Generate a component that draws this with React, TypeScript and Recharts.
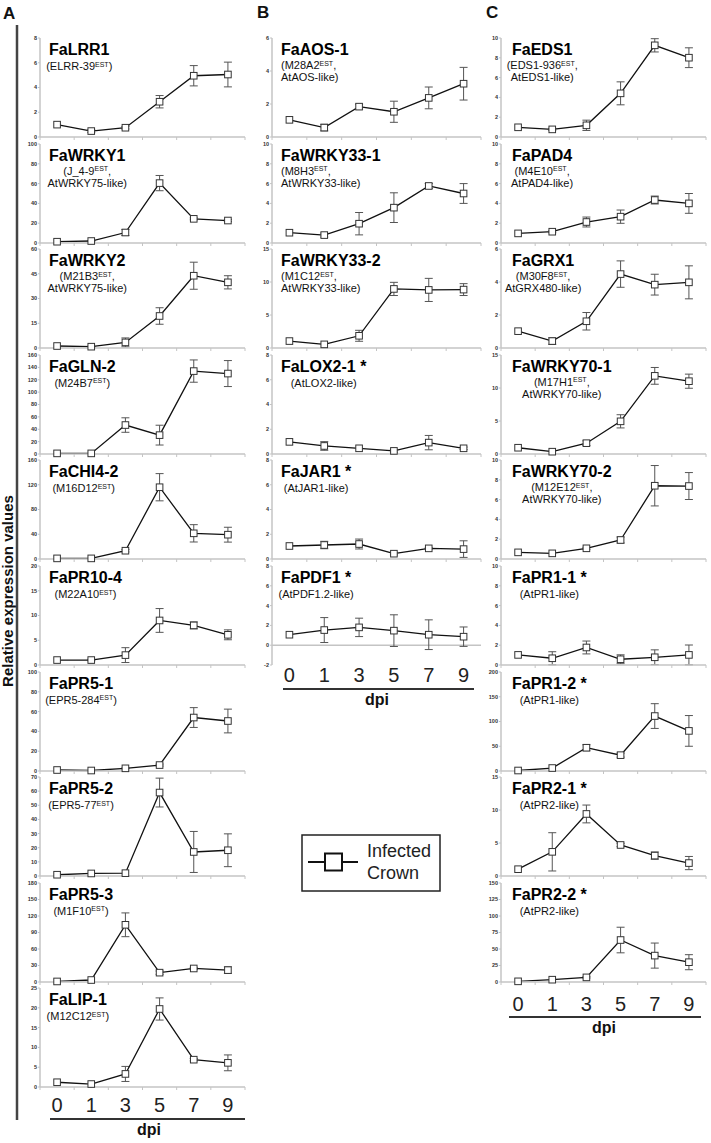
import React from 'react';
import { LineChart, Line, XAxis, YAxis, ErrorBar, ReferenceLine } from 'recharts';

const DPI = ['0', '1', '3', '5', '7', '9'];

// column A, mean and error
const lrr1 = [1, 0.48, 0.75, 2.85, 4.95, 5.05];
const lrr1Se = [0, 0.1, 0.1, 0.5, 0.82, 1.0];
const wrky1 = [1.3, 2, 10.6, 60.5, 24.4, 22.7];
const wrky1Se = [0, 0.5, 3, 7.7, 1, 1];
const wrky2 = [1.2, 0.8, 3.4, 19.4, 43.8, 39.8];
const wrky2Se = [0, 0.3, 2.7, 5, 8.2, 4];
const gln2 = [1, 1, 46.8, 30.5, 134, 130];
const gln2Se = [0, 0, 11.7, 16, 18, 21];
const chi42 = [1, 1, 13.4, 116, 41.5, 39.3];
const chi42Se = [0, 0, 2, 22, 14, 12];
const pr104 = [1, 1, 2, 9, 8, 6.1];
const pr104Se = [0, 0.15, 1.5, 2.4, 0.7, 1];
const pr51 = [1, 0.5, 2.7, 6, 54, 50.5];
const pr51Se = [0, 0, 0.5, 1, 10, 12];
const pr52 = [0.9, 1.8, 2, 59, 17, 18.2];
const pr52Se = [0, 0, 0, 10.2, 14.5, 11.6];
const pr53 = [1, 3.6, 104, 17, 24.6, 21.6];
const pr53Se = [0, 0, 21.6, 3, 2, 6];
const lip1 = [1.2, 0.75, 3.3, 19.7, 6.9, 6.1];
const lip1Se = [0, 0, 1.9, 2.8, 0.3, 2];

// column B
const aos1 = [1.04, 0.57, 1.84, 1.53, 2.37, 3.23];
const aos1Se = [0, 0.2, 0.15, 0.64, 0.66, 0.99];
const wrky331 = [1.04, 0.8, 1.95, 3.57, 5.76, 5.0];
const wrky331Se = [0, 0.2, 1.13, 1.5, 0.25, 1.0];
const wrky332 = [1.05, 0.55, 1.85, 8.95, 8.8, 8.85];
const wrky332Se = [0, 0, 0.83, 1, 1.75, 0.9];
const lox21 = [0.98, 0.65, 0.46, 0.25, 0.92, 0.46];
const lox21Se = [0, 0.35, 0, 0.1, 0.58, 0.1];
const jar1 = [1.05, 1.13, 1.21, 0.43, 0.86, 0.8];
const jar1Se = [0, 0.3, 0.4, 0.1, 0.05, 0.67];
const pdf1 = [1.06, 1.53, 1.8, 1.47, 1.06, 0.86];
const pdf1Se = [0, 1.26, 0.93, 1.6, 1.5, 0.98];

// column C
const eds1 = [0.98, 0.77, 1.18, 4.41, 9.26, 8.01];
const eds1Se = [0, 0.1, 0.52, 1.16, 0.67, 1.0];
const pad4 = [0.97, 1.14, 2.12, 2.66, 4.34, 4.0];
const pad4Se = [0, 0.1, 0.5, 0.67, 0.4, 1.0];
const grx1 = [1.02, 0.42, 1.62, 4.48, 3.84, 3.98];
const grx1Se = [0, 0.2, 0.53, 0.8, 0.63, 1.0];
const wrky701 = [0.95, 0.35, 1.64, 4.95, 11.84, 11.03];
const wrky701Se = [0, 0, 0.35, 1.0, 1.27, 1.07];
const wrky702 = [0.67, 0.57, 1.08, 1.92, 7.4, 7.37];
const wrky702Se = [0, 0, 0.1, 0.3, 2.04, 1.36];
const pr11 = [1.02, 0.68, 1.77, 0.58, 0.78, 1.02];
const pr11Se = [0, 0.66, 0.65, 0.45, 0.75, 1.0];
const pr12 = [1, 6, 47, 32, 111, 81];
const pr12Se = [0, 0, 6, 4, 25, 31];
const pr21 = [1.03, 3.66, 9.4, 4.7, 3.09, 1.96];
const pr21Se = [0, 2.9, 1.35, 0.25, 0.55, 1.0];
const pr22 = [1, 3.5, 7, 63.6, 40, 30];
const pr22Se = [0, 0, 1, 19.4, 19, 11.4];

// y tick labels
const tk6 = [0, 2, 4, 6];
const tk8 = [0, 2, 4, 6, 8];
const tk10 = [0, 2, 4, 6, 8, 10];
const tk15 = [0, 5, 10, 15];
const tk20 = [0, 5, 10, 15, 20];
const tk25 = [0, 5, 10, 15, 20, 25];
const tk60 = [0, 15, 30, 45, 60];
const tk70 = [0, 10, 20, 30, 40, 50, 60, 70];
const tk100 = [0, 20, 40, 60, 80, 100];
const tk150 = [0, 25, 50, 75, 100, 125, 150];
const tk160 = [0, 20, 40, 60, 80, 100, 120, 140, 160];
const tk160b = [0, 40, 80, 120, 160];
const tk180 = [0, 30, 60, 90, 120, 150, 180];
const tk200 = [0, 50, 100, 150, 200];
const tkNeg8 = [-2, 0, 2, 4, 6, 8];

type PanelDef = { name: string; sub: string[]; v: number[]; se: number[]; ticks: number[] };

// '^' switches superscript on / off
const COL_A: PanelDef[] = [
  { name: 'FaLRR1', sub: ['(ELRR-39^EST^)'], v: lrr1, se: lrr1Se, ticks: tk8 },
  { name: 'FaWRKY1', sub: ['(J_4-9^EST^,', 'AtWRKY75-like)'], v: wrky1, se: wrky1Se, ticks: tk100 },
  { name: 'FaWRKY2', sub: ['(M21B3^EST^,', 'AtWRKY75-like)'], v: wrky2, se: wrky2Se, ticks: tk60 },
  { name: 'FaGLN-2', sub: ['(M24B7^EST^)'], v: gln2, se: gln2Se, ticks: tk160 },
  { name: 'FaCHI4-2', sub: ['(M16D12^EST^)'], v: chi42, se: chi42Se, ticks: tk160b },
  { name: 'FaPR10-4', sub: ['(M22A10^EST^)'], v: pr104, se: pr104Se, ticks: tk20 },
  { name: 'FaPR5-1', sub: ['(EPR5-284^EST^)'], v: pr51, se: pr51Se, ticks: tk100 },
  { name: 'FaPR5-2', sub: ['(EPR5-77^EST^)'], v: pr52, se: pr52Se, ticks: tk70 },
  { name: 'FaPR5-3', sub: ['(M1F10^EST^)'], v: pr53, se: pr53Se, ticks: tk180 },
  { name: 'FaLIP-1', sub: ['(M12C12^EST^)'], v: lip1, se: lip1Se, ticks: tk25 },
];

const COL_B: PanelDef[] = [
  { name: 'FaAOS-1', sub: ['(M28A2^EST^,', 'AtAOS-like)'], v: aos1, se: aos1Se, ticks: tk6 },
  { name: 'FaWRKY33-1', sub: ['(M8H3^EST^,', 'AtWRKY33-like)'], v: wrky331, se: wrky331Se, ticks: tk10 },
  { name: 'FaWRKY33-2', sub: ['(M1C12^EST^,', 'AtWRKY33-like)'], v: wrky332, se: wrky332Se, ticks: tk15 },
  { name: 'FaLOX2-1 *', sub: ['(AtLOX2-like)'], v: lox21, se: lox21Se, ticks: tk8 },
  { name: 'FaJAR1 *', sub: ['(AtJAR1-like)'], v: jar1, se: jar1Se, ticks: tk8 },
  { name: 'FaPDF1 *', sub: ['(AtPDF1.2-like)'], v: pdf1, se: pdf1Se, ticks: tkNeg8 },
];

const COL_C: PanelDef[] = [
  { name: 'FaEDS1', sub: ['(EDS1-936^EST^,', 'AtEDS1-like)'], v: eds1, se: eds1Se, ticks: tk10 },
  { name: 'FaPAD4', sub: ['(M4E10^EST^,', 'AtPAD4-like)'], v: pad4, se: pad4Se, ticks: tk10 },
  { name: 'FaGRX1', sub: ['(M30F8^EST^,', 'AtGRX480-like)'], v: grx1, se: grx1Se, ticks: tk6 },
  { name: 'FaWRKY70-1', sub: ['(M17H1^EST^,', 'AtWRKY70-like)'], v: wrky701, se: wrky701Se, ticks: tk15 },
  { name: 'FaWRKY70-2', sub: ['(M12E12^EST^,', 'AtWRKY70-like)'], v: wrky702, se: wrky702Se, ticks: tk10 },
  { name: 'FaPR1-1 *', sub: ['(AtPR1-like)'], v: pr11, se: pr11Se, ticks: tk10 },
  { name: 'FaPR1-2 *', sub: ['(AtPR1-like)'], v: pr12, se: pr12Se, ticks: tk200 },
  { name: 'FaPR2-1 *', sub: ['(AtPR2-like)'], v: pr21, se: pr21Se, ticks: tk15 },
  { name: 'FaPR2-2 *', sub: ['(AtPR2-like)'], v: pr22, se: pr22Se, ticks: tk150 },
];

const LEFT_SUBS = new Set(['FaAOS-1', 'FaWRKY33-1', 'FaWRKY33-2']);

const FONT = '"Liberation Sans", Arial, Helvetica, sans-serif';
const PLOT_H = 99;
const PITCH = 105.6;
const TOP0 = 38;
const AXW = 30;
const EDGES = [-0.5, 0.5, 1.5, 2.5, 3.5, 4.5, 5.5];
const IDX = [0, 1, 2, 3, 4, 5];
const GREY = '#c4c4c4';

const COLS = [
  { panels: COL_A, x0: 40, w: 205, titleX: 49, labMargin: 5, rule: [50, 245, 1119], dpi: [149, 1135], letter: ['A', 3, 19] },
  { panels: COL_B, x0: 272, w: 209, titleX: 281, labMargin: 1, rule: [283, 474, 689], dpi: [377, 705], letter: ['B', 257, 18] },
  { panels: COL_C, x0: 501, w: 205, titleX: 512, labMargin: 9, rule: [509, 701, 1017], dpi: [604, 1033], letter: ['C', 486, 18] },
];

let measureCtx: CanvasRenderingContext2D | null = null;
function textWidth(s: string, font: string) {
  if (!measureCtx) measureCtx = document.createElement('canvas').getContext('2d');
  if (!measureCtx) return s.length * 9;
  measureCtx.font = font;
  return measureCtx.measureText(s).width;
}

function SquareDot(props: any) {
  const { cx, cy, index } = props;
  if (cx == null || cy == null) return <g key={`d${index}`} />;
  return <rect key={`d${index}`} x={cx - 3.3} y={cy - 3.3} width={6.6} height={6.6} fill="#fff" stroke="#333" strokeWidth={1} />;
}

function Panel({ def, x0, w, top, last, labMargin }: { def: PanelDef; x0: number; w: number; top: number; last: boolean; labMargin: number }) {
  const rows = IDX.map(i => ({ x: i, v: def.v[i], se: def.se[i] }));
  const lo = def.ticks[0];
  const hi = def.ticks[def.ticks.length - 1];
  const neg = lo < 0;
  const axH = neg ? 2 : 6;
  const labH = last ? 30 : 0;
  const axisStyle = { stroke: GREY, strokeWidth: 1.5 };
  return (
    <div style={{ position: 'absolute', left: x0 - AXW, top: top - 4 }}>
      <LineChart width={AXW + w + 4} height={4 + PLOT_H + axH + labH} data={rows} margin={{ top: 4, right: 4, bottom: 0, left: 0 }}>
        <XAxis dataKey="x" type="number" domain={[-0.5, 5.5]} ticks={EDGES} interval={0} tickFormatter={() => ''}
          height={axH} tickSize={3} axisLine={neg ? false : axisStyle} tickLine={neg ? false : { stroke: GREY }} />
        {last && (
          <XAxis xAxisId="lab" dataKey="x" type="number" domain={[-0.5, 5.5]} ticks={IDX} interval={0}
            tickFormatter={(i: number) => DPI[i]} height={labH} tickSize={0} tickMargin={labMargin}
            axisLine={false} tickLine={false} tick={{ fontSize: 20, fill: '#222' }} />
        )}
        <YAxis type="number" domain={[lo, hi]} ticks={def.ticks} interval={0} width={AXW} tickSize={2} tickMargin={1}
          axisLine={axisStyle} tickLine={{ stroke: GREY }} tick={{ fontSize: 5.5, fill: '#333', fontWeight: 700 }} />
        {neg && <ReferenceLine y={0} stroke={GREY} strokeWidth={1.5} />}
        <Line dataKey="v" stroke="#111" strokeWidth={1.3} dot={false} activeDot={false} isAnimationActive={false}>
          <ErrorBar dataKey="se" direction="y" width={4} stroke="#555" strokeWidth={1} />
        </Line>
        {/* markers drawn last so the white squares sit over the error bars */}
        <Line dataKey="v" stroke="none" dot={SquareDot} activeDot={false} isAnimationActive={false} />
      </LineChart>
    </div>
  );
}

function SubLine({ s, x, y, anchor }: { s: string; x: number; y: number; anchor: 'start' | 'middle' }) {
  const parts = s.split('^');
  return (
    <text x={x} y={y} fontSize={11} textAnchor={anchor} fill="#111">
      {parts.map((p, i) =>
        i % 2 === 1
          ? <tspan key={i} fontSize={7} dy={-3.5}>{p}</tspan>
          : <tspan key={i} dy={i > 0 ? 3.5 : 0}>{p}</tspan>
      )}
    </text>
  );
}

export default function App() {
  const titleFont = `bold 16px ${FONT}`;
  return (
    <div style={{ position: 'absolute', left: 0, top: 0, width: 711, height: 1143, background: '#fff', fontFamily: FONT }}>
      {COLS.map((c, ci) =>
        c.panels.map((p, pi) => (
          <Panel key={`${ci}-${pi}`} def={p} x0={c.x0} w={c.w} top={TOP0 + PITCH * pi}
            last={pi === c.panels.length - 1} labMargin={c.labMargin} />
        ))
      )}
      <svg width={711} height={1143} style={{ position: 'absolute', left: 0, top: 0, pointerEvents: 'none' }} fontFamily={FONT}>
        <line x1={17} x2={17} y1={25} y2={1120} stroke="#444" strokeWidth={2.5} />
        <text x={13} y={591} transform="rotate(-90 13 591)" textAnchor="middle" fontSize={15} fontWeight={700} fill="#111">
          Relative expression values
        </text>
        {COLS.map((c, ci) => (
          <g key={ci}>
            <text x={c.letter[1] as number} y={c.letter[2] as number} fontSize={17} fontWeight={700} fill="#111">{c.letter[0]}</text>
            <line x1={c.rule[0]} x2={c.rule[1]} y1={c.rule[2]} y2={c.rule[2]} stroke="#333" strokeWidth={2} />
            <text x={c.dpi[0]} y={c.dpi[1]} textAnchor="middle" fontSize={16} fontWeight={700} fill="#111">dpi</text>
            {c.panels.map((p, pi) => {
              const t = TOP0 + PITCH * pi;
              const tw = textWidth(p.name, titleFont);
              const left = LEFT_SUBS.has(p.name);
              const sx = left ? c.titleX : c.titleX + tw / 2;
              const ys = p.sub.length > 1 ? [t + 31, t + 43] : [t + 32];
              return (
                <g key={pi}>
                  <text x={c.titleX} y={t + 17} fontSize={16} fontWeight={700} fill="#000">{p.name}</text>
                  {p.sub.map((s, si) => (
                    <SubLine key={si} s={s} x={sx} y={ys[si]} anchor={left ? 'start' : 'middle'} />
                  ))}
                </g>
              );
            })}
          </g>
        ))}
        <rect x={302} y={835} width={138} height={56} fill="none" stroke="#222" strokeWidth={1.5} />
        <line x1={308} x2={358} y1={862} y2={862} stroke="#111" strokeWidth={2} />
        <rect x={325} y={853.5} width={17} height={17} fill="#fff" stroke="#111" strokeWidth={2} />
        <text x={367} y={857} fontSize={18} fill="#222">Infected</text>
        <text x={367} y={879} fontSize={18} fill="#222">Crown</text>
      </svg>
    </div>
  );
}
